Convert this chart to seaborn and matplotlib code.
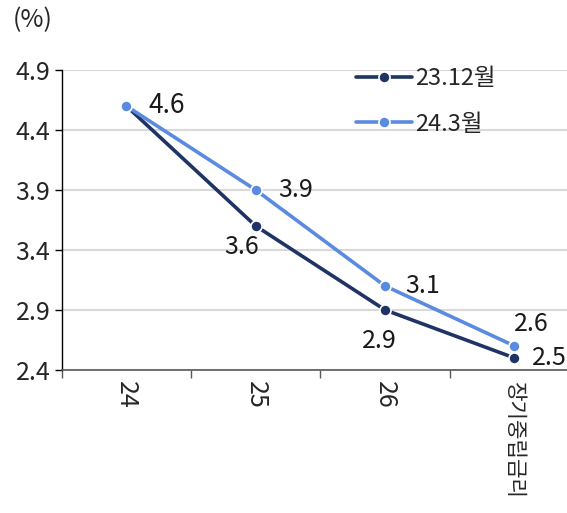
import matplotlib
matplotlib.use("Agg")
import matplotlib.pyplot as plt
import seaborn as sns
import pandas as pd
from matplotlib.ticker import FixedLocator

categories = ["24", "25", "26", "장기중립금리"]
series_names = ["23.12월", "24.3월"]
values_dec = [4.6, 3.6, 2.9, 2.5]
values_mar = [4.6, 3.9, 3.1, 2.6]
y_ticks = [2.4, 2.9, 3.4, 3.9, 4.4, 4.9]

colors = {"23.12월": "#1f3464", "24.3월": "#5b8be0"}
FS = 18

sns.set_theme(style="white")
plt.rcParams["font.family"] = ["Noto Sans CJK KR", "DejaVu Sans"]

df = pd.DataFrame({
    "x": list(range(len(categories))) * 2,
    "value": values_dec + values_mar,
    "series": [series_names[0]] * len(categories) + [series_names[1]] * len(categories),
})

fig = plt.figure(figsize=(5.67, 5.13), dpi=100)
ax = fig.add_axes([0.1085, 0.2788, 0.913, 0.585])

sns.lineplot(data=df, x="x", y="value", hue="series", palette=colors,
             marker="o", markersize=8, markeredgecolor="white", markeredgewidth=1.2,
             linewidth=2.6, ax=ax, legend=True, zorder=3)

ax.set_xlim(-0.5, 3.5)
ax.set_ylim(2.4, 4.9)
ax.set_yticks(y_ticks)
ax.set_yticklabels([f"{v:.1f}" for v in y_ticks], fontsize=FS)
ax.set_xticks(range(len(categories)))
ax.set_xticklabels(categories, rotation=-90, fontsize=FS, va="top", ha="center")
ax.get_xticklabels()[-1].set_fontsize(15.3)
ax.tick_params(axis="x", which="major", length=0, pad=8)
ax.xaxis.set_minor_locator(FixedLocator([-0.5, 0.5, 1.5, 2.5, 3.5]))
ax.tick_params(axis="x", which="minor", length=6, width=1, color="#595959", direction="out", bottom=True)
ax.tick_params(axis="y", length=5, width=1, color="black", direction="out", left=True, pad=3)
ax.set_xlabel("")
ax.set_ylabel("")

ax.grid(axis="y", color="#d9d9d9", linewidth=1.5, zorder=0)
ax.grid(axis="x", visible=False)
for side in ["top", "right"]:
    ax.spines[side].set_visible(False)
ax.spines["left"].set_color("black")
ax.spines["left"].set_linewidth(1)
ax.spines["bottom"].set_color("#595959")
ax.spines["bottom"].set_linewidth(1.2)

ax.text(-0.055, 1.165, "(%)", transform=ax.transAxes, fontsize=FS, ha="center", va="center")

# value labels (offsets in points)
offsets_dec = [(29, 0), (-10, -15), (-4, -22), (25, 0)]
offsets_mar = [(29, 0), (29, 0), (27, 0), (12, 16)]
for i, v in enumerate(values_dec):
    if i == 0:
        continue
    ax.annotate(f"{v:.1f}", (i, v), xytext=offsets_dec[i], textcoords="offset points",
                ha="center", va="center", fontsize=FS, color="#1a1a1a")
for i, v in enumerate(values_mar):
    ax.annotate(f"{v:.1f}", (i, v), xytext=offsets_mar[i], textcoords="offset points",
                ha="center", va="center", fontsize=FS + (1 if i == 0 else 0), color="#1a1a1a")

leg = ax.legend(loc="upper left", bbox_to_anchor=(0.55, 1.04), frameon=False,
                fontsize=17, handlelength=2.4, handletextpad=0.1, labelspacing=0.95,
                borderaxespad=0)

fig.savefig("out.png", dpi=100)
